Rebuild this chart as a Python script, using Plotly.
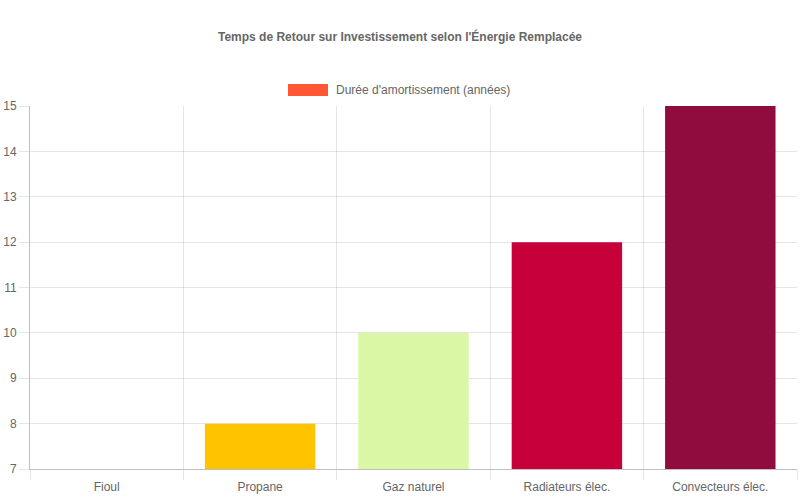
import plotly.graph_objects as go

# Temps de retour par énergie remplacée
energies = ['Fioul', 'Propane', 'Gaz naturel', 'Radiateurs élec.', 'Convecteurs élec.']
annees = [7, 8, 10, 12, 15]
couleurs = ['#FF5733', '#FFC300', '#DAF7A6', '#C70039', '#900C3F']
serie = "Durée d'amortissement (années)"

grid = 'rgba(0,0,0,0.1)'
txt = '#666666'

fig = go.Figure()

fig.add_trace(go.Bar(
    x=energies,
    y=annees,
    marker=dict(color=couleurs, line=dict(width=0)),
    width=0.72,
    name=serie,
    showlegend=False,
    hoverinfo='x+y'
))

# légende façon Chart.js (boîte + texte)
fig.add_shape(type='rect', xref='paper', yref='paper',
              x0=(288 - 30) / 767, x1=(328 - 30) / 767,
              y0=(469 - 96) / 363, y1=(469 - 84) / 363,
              fillcolor=couleurs[0], line=dict(width=0))
fig.add_annotation(text=serie, xref='paper', yref='paper',
                   x=(334 - 30) / 767, y=(469 - 90) / 363,
                   xanchor='left', yanchor='middle', showarrow=False,
                   font=dict(size=12, color=txt))

fig.update_layout(
    width=800,
    height=500,
    margin=dict(l=30, r=3, t=106, b=31),
    paper_bgcolor='white',
    plot_bgcolor='white',
    font=dict(family='Liberation Sans, Arial, sans-serif', size=12, color=txt),
    title=dict(
        text="<b>Temps de Retour sur Investissement selon l'Énergie Remplacée</b>",
        x=0.5, xanchor='center',
        y=1 - 37 / 500, yanchor='middle', yref='container',
        font=dict(size=12, color=txt)),
    xaxis=dict(
        type='category',
        tickson='boundaries',
        ticks='outside',
        ticklen=10,
        tickcolor=grid,
        showgrid=True,
        gridcolor=grid,
        showline=True,
        linecolor='rgba(0,0,0,0.25)',
        tickfont=dict(size=12, color=txt),
        ticklabelstandoff=7,
        automargin=False),
    yaxis=dict(
        range=[7, 15],
        dtick=1,
        ticks='outside',
        ticklen=10,
        tickcolor=grid,
        showgrid=True,
        gridcolor=grid,
        zeroline=False,
        showline=True,
        linecolor='rgba(0,0,0,0.25)',
        tickfont=dict(size=12, color=txt),
        ticklabelstandoff=0,
        automargin=False),
)

# pas de marge de page autour du graphique
fig.write_html("out.html",
               config={'displayModeBar': False},
               post_script="document.body.style.margin = '0';")
